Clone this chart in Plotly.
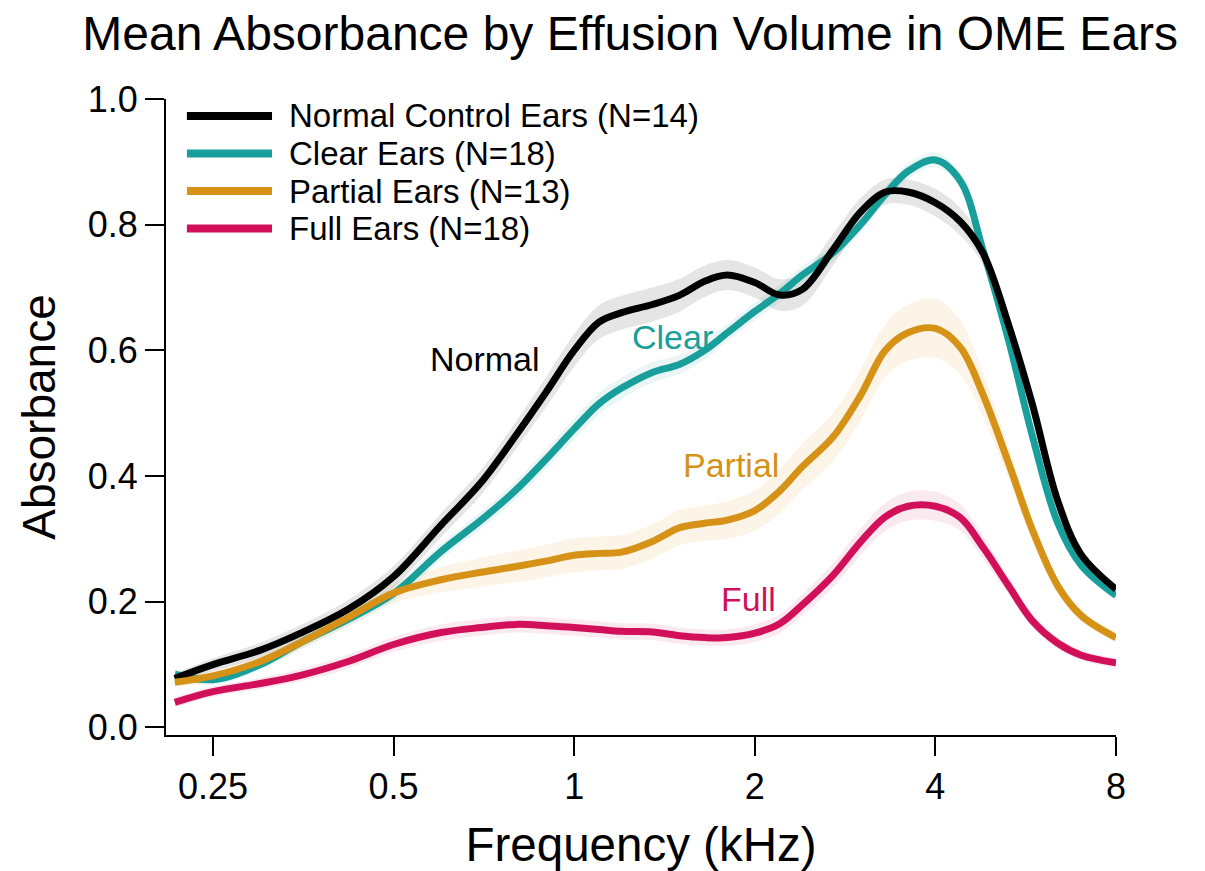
import math
import plotly.graph_objects as go

# ---- data ----
freq_khz = [0.216, 0.25, 0.30, 0.35, 0.42, 0.5, 0.6, 0.7, 0.8, 0.9, 1.0, 1.1, 1.2, 1.35, 1.5,
            1.65, 1.8, 2.0, 2.2, 2.4, 2.7, 3.0, 3.3, 3.6, 4.0, 4.4, 4.8, 5.3, 5.8, 6.4, 7.0, 8.0]

normal = [0.078, 0.100, 0.123, 0.150, 0.188, 0.240, 0.322, 0.390, 0.465, 0.535, 0.600, 0.645,
          0.660, 0.673, 0.688, 0.710, 0.720, 0.708, 0.688, 0.697, 0.760, 0.820, 0.852, 0.852,
          0.835, 0.805, 0.755, 0.640, 0.515, 0.360, 0.275, 0.220]
clear = [0.085, 0.076, 0.100, 0.135, 0.172, 0.213, 0.280, 0.330, 0.378, 0.428, 0.475, 0.515,
         0.540, 0.565, 0.578, 0.600, 0.628, 0.662, 0.690, 0.720, 0.755, 0.800, 0.848, 0.885,
         0.903, 0.870, 0.760, 0.615, 0.465, 0.325, 0.258, 0.210]
partial = [0.072, 0.082, 0.105, 0.135, 0.175, 0.214, 0.235, 0.247, 0.256, 0.265, 0.274, 0.277,
           0.279, 0.296, 0.318, 0.325, 0.330, 0.345, 0.376, 0.415, 0.462, 0.528, 0.600, 0.628,
           0.635, 0.605, 0.530, 0.420, 0.315, 0.225, 0.178, 0.143]
full = [0.040, 0.057, 0.070, 0.083, 0.105, 0.132, 0.151, 0.159, 0.164, 0.162, 0.159, 0.156,
        0.153, 0.152, 0.146, 0.143, 0.143, 0.150, 0.165, 0.195, 0.242, 0.295, 0.335, 0.352,
        0.352, 0.334, 0.287, 0.225, 0.170, 0.134, 0.115, 0.103]

# standard-error half widths of the shaded bands
normal_se = [0.008, 0.010, 0.012, 0.013, 0.015, 0.017, 0.019, 0.020, 0.022, 0.024, 0.026, 0.027,
             0.027, 0.027, 0.026, 0.025, 0.024, 0.024, 0.025, 0.026, 0.025, 0.022, 0.020, 0.020,
             0.022, 0.022, 0.018, 0.014, 0.012, 0.010, 0.009, 0.008]
clear_se = [0.008, 0.008, 0.009, 0.010, 0.011, 0.012, 0.013, 0.014, 0.015, 0.016, 0.017, 0.017,
            0.017, 0.016, 0.015, 0.015, 0.014, 0.014, 0.014, 0.014, 0.013, 0.013, 0.012, 0.012,
            0.012, 0.012, 0.012, 0.011, 0.010, 0.009, 0.008, 0.008]
partial_se = [0.008, 0.009, 0.010, 0.011, 0.013, 0.016, 0.020, 0.023, 0.025, 0.026, 0.027, 0.027,
              0.027, 0.027, 0.028, 0.028, 0.030, 0.032, 0.035, 0.037, 0.038, 0.040, 0.042, 0.045,
              0.047, 0.043, 0.035, 0.025, 0.018, 0.012, 0.010, 0.008]
full_se = [0.008, 0.008, 0.009, 0.010, 0.011, 0.012, 0.013, 0.013, 0.013, 0.013, 0.013, 0.013,
           0.013, 0.013, 0.013, 0.013, 0.013, 0.014, 0.015, 0.017, 0.019, 0.021, 0.022, 0.023,
           0.023, 0.021, 0.018, 0.014, 0.011, 0.009, 0.008, 0.008]

series_names = ["Normal Control Ears (N=14)", "Clear Ears (N=18)",
                "Partial Ears (N=13)", "Full Ears (N=18)"]
short_labels = ["Normal", "Clear", "Partial", "Full"]
label_freq = [0.711, 1.459, 1.823, 1.953]
label_abs = [0.586, 0.621, 0.417, 0.204]

x_tickvals = [0.25, 0.5, 1, 2, 4, 8]
x_ticktext = ["0.25", "0.5", "1", "2", "4", "8"]

# ---- styles ----
colors = ["#000000", "#189E9B", "#D59216", "#D2105A"]
band_colors = ["rgba(0,0,0,0.10)", "rgba(24,158,155,0.09)",
               "rgba(213,146,22,0.10)", "rgba(210,16,90,0.09)"]
FONT = "Liberation Sans, Arial, Helvetica, sans-serif"

means = [normal, clear, partial, full]
ses = [normal_se, clear_se, partial_se, full_se]

fig = go.Figure()

# shaded bands
for m, s, bc in zip(means, ses, band_colors):
    upper = [a + b for a, b in zip(m, s)]
    lower = [a - b for a, b in zip(m, s)]
    fig.add_trace(go.Scatter(x=freq_khz, y=upper, mode="lines",
                             line=dict(width=0, shape="spline", smoothing=1.0),
                             showlegend=False, hoverinfo="skip"))
    fig.add_trace(go.Scatter(x=freq_khz, y=lower, mode="lines", fill="tonexty",
                             fillcolor=bc,
                             line=dict(width=0, shape="spline", smoothing=1.0),
                             showlegend=False, hoverinfo="skip"))

# mean lines (draw order: clear, normal, partial, full)
order = [1, 0, 2, 3]
for i in order:
    fig.add_trace(go.Scatter(x=freq_khz, y=means[i], mode="lines", name=series_names[i],
                             line=dict(color=colors[i], width=7, shape="spline", smoothing=1.0),
                             showlegend=False))

# custom legend (long line swatches)
leg_y = [0.9733, 0.9143, 0.8553, 0.7964]
shapes = []
annotations = []
for i in range(4):
    shapes.append(dict(type="line", xref="paper", yref="paper",
                       x0=0.022, x1=0.1116, y0=leg_y[i], y1=leg_y[i],
                       line=dict(color=colors[i], width=8)))
    annotations.append(dict(xref="paper", yref="paper", x=0.128, y=leg_y[i],
                            xanchor="left", yanchor="middle", showarrow=False,
                            text=series_names[i], borderpad=0,
                            font=dict(family=FONT, size=33, color="#000000")))

# curve labels
for i in range(4):
    annotations.append(dict(xref="x", yref="y", x=math.log10(label_freq[i]), y=label_abs[i],
                            xanchor="center", yanchor="middle", showarrow=False,
                            text=short_labels[i],
                            font=dict(family=FONT, size=34, color=colors[i])))

fig.update_layout(
    width=1205, height=871,
    margin=dict(l=166, r=89, t=99, b=136),
    paper_bgcolor="white", plot_bgcolor="white",
    font=dict(family=FONT, color="#000000"),
    title=dict(text="Mean Absorbance by Effusion Volume in OME Ears",
               x=0.523, xref="container", xanchor="center",
               y=0.962, yref="container", yanchor="middle",
               font=dict(family=FONT, size=48, color="#000000")),
    shapes=shapes, annotations=annotations,
    showlegend=False,
)

fig.update_xaxes(type="log", range=[math.log10(0.2088), math.log10(8)],
                 tickvals=x_tickvals, ticktext=x_ticktext, automargin=False,
                 showgrid=False, zeroline=False,
                 showline=True, linecolor="#000000", linewidth=2,
                 ticks="outside", ticklen=19, tickwidth=2, tickcolor="#000000",
                 tickfont=dict(family=FONT, size=36, color="#000000"),
                 title=dict(text="Frequency (kHz)", standoff=24,
                            font=dict(family=FONT, size=47.5, color="#000000")))
fig.update_yaxes(range=[-0.012, 1.0], tick0=0, dtick=0.2, tickformat=".1f", automargin=False,
                 showgrid=False, zeroline=False,
                 showline=True, linecolor="#000000", linewidth=2,
                 ticks="outside", ticklen=19, tickwidth=2, tickcolor="#000000",
                 tickfont=dict(family=FONT, size=36, color="#000000"),
                 title=dict(text="Absorbance", standoff=18,
                            font=dict(family=FONT, size=46, color="#000000")))

fig.write_html("out.html")
